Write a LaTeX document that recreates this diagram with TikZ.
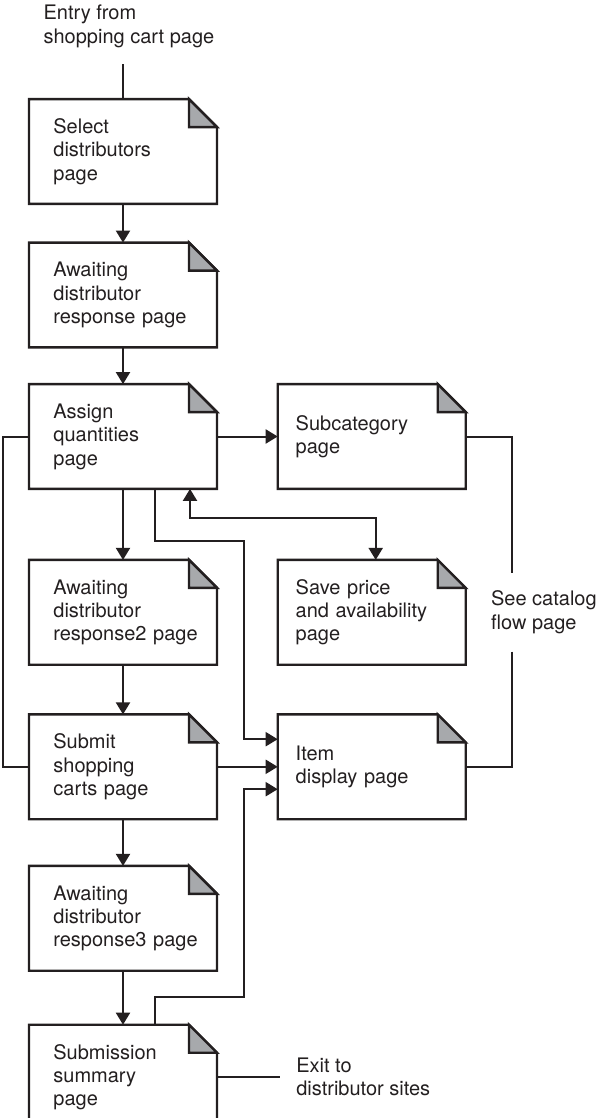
\documentclass[tikz,border=0pt]{standalone}
\usepackage{fontspec}
\setmainfont{TeX Gyre Heros}
\usepackage{xcolor}
\usepackage{tikz}
\usetikzlibrary{positioning,calc}
\usetikzlibrary{arrows.meta}
\definecolor{ink}{RGB}{35,31,32}
\definecolor{foldgray}{RGB}{167,169,172}
\newcommand{\foldsz}{14pt}
\tikzstyle{line} = [-{Triangle[length=6pt,width=7pt]}]
\tikzstyle{twoway} = [{Triangle[length=6pt,width=7pt]}-{Triangle[length=6pt,width=7pt]}]
\tikzstyle{pagebox} = [minimum width=93pt, minimum height=51.4pt, text width=93pt,
  inner xsep=0pt, inner ysep=0pt, align=left, execute at begin node={\leftskip=11.7pt}]
\tikzstyle{sidebox} = [pagebox, execute at begin node={\leftskip=8.5pt}]
\tikzstyle{note} = [align=left, inner sep=0pt]

\begin{document}
\begin{tikzpicture}[color=ink, line width=1pt, font=\fontsize{10}{11.7}\selectfont]
        \useasboundingbox (0,0) rectangle (297.5pt,-559pt);
        % main column
        \node[pagebox] (sel) at (61.5pt,-75.75pt) {Select\\distributors\\page};
        \node[pagebox, below=19.35pt of sel] (wait1) {Awaiting\\distributor\\response page};
        \node[pagebox, below=18.35pt of wait1] (assign) {Assign\\quantities\\page};
        \node[pagebox, below=35.5pt of assign] (wait2) {Awaiting\\distributor\\response2 page};
        \node[pagebox, below=24.85pt of wait2] (submit) {Submit\\shopping\\carts page};
        \node[pagebox, below=23.35pt of submit] (wait3) {Awaiting\\distributor\\response3 page};
        \node[pagebox, below=27pt of wait3] (summ) {Submission\\summary\\page};
        % catalog side
        \node[sidebox, right=30.35pt of assign] (sub) {Subcategory\\page};
        \node[sidebox, right=30.35pt of wait2] (save) {Save price\\and availability\\page};
        \node[sidebox, right=30.35pt of submit] (item) {Item\\display page};
        % free texts
        \node[note, anchor=north west, font=\fontsize{10}{12.2}\selectfont] (entry) at (21.3pt,-1.85pt) {Entry from\\shopping cart page};
        \node[note, inner ysep=8.5pt, anchor=west] (catalog) at ($(save.east)+(12.2pt,0)$) {See catalog\\flow page};
        \node[note, inner xsep=7.5pt, anchor=west] (exit) at ($(summ.east)+(31.65pt,0)$) {Exit to\\distributor sites};

        % page outlines with dog-ear
        \foreach \p in {sel,wait1,assign,wait2,submit,wait3,summ,sub,save,item} {
            \draw[line width=1.2pt] (\p.north west) -- ($(\p.north east)+(-\foldsz,0)$) -- ($(\p.north east)+(0,-\foldsz)$) -- (\p.south east) -- (\p.south west) -- cycle;
            \filldraw[fill=foldgray, line width=1.2pt] ($(\p.north east)+(-\foldsz,0)$) -- ++(0,-\foldsz) -- ($(\p.north east)+(0,-\foldsz)$) -- cycle;
        }

        \draw ([yshift=-7.55pt]entry.south -| sel.north) -- (sel.north);
        \draw[line] (sel) -- (wait1);
        \draw[line] (wait1) -- (assign);
        \draw[line] (assign) -- (wait2);
        \draw[line] (wait2) -- (submit);
        \draw[line] (submit) -- (wait3);
        \draw[line] (wait3) -- (summ);
        \draw[line] (assign) -- (sub);
        \draw[line] (submit) -- (item);
        \draw (submit.west) -- ++(-13pt,0) |- (assign.west);
        \draw[line] ([xshift=16pt]assign.south) -- ++(0,-25.85pt) -| ($(item.west)+(-17.1pt,13.8pt)$) -- ($(item.west)+(0,13.8pt)$);
        \draw[twoway] ($(assign.south east)+(-13.5pt,0)$) |- ($(save.north)+(2pt,21.15pt)$) -- ($(save.north)+(2pt,0)$);
        \draw[line] ([xshift=16pt]summ.north) -- ++(0,14pt) -| ($(item.west)+(-17.1pt,-11.2pt)$) -- ($(item.west)+(0,-11.2pt)$);
        \draw (sub.east) -| ([xshift=10.75pt]catalog.north west);
        \draw ([xshift=10.75pt]catalog.south west) |- (item.east);
        \draw (summ.east) -- (exit.west);
    \end{tikzpicture}
\end{document}
